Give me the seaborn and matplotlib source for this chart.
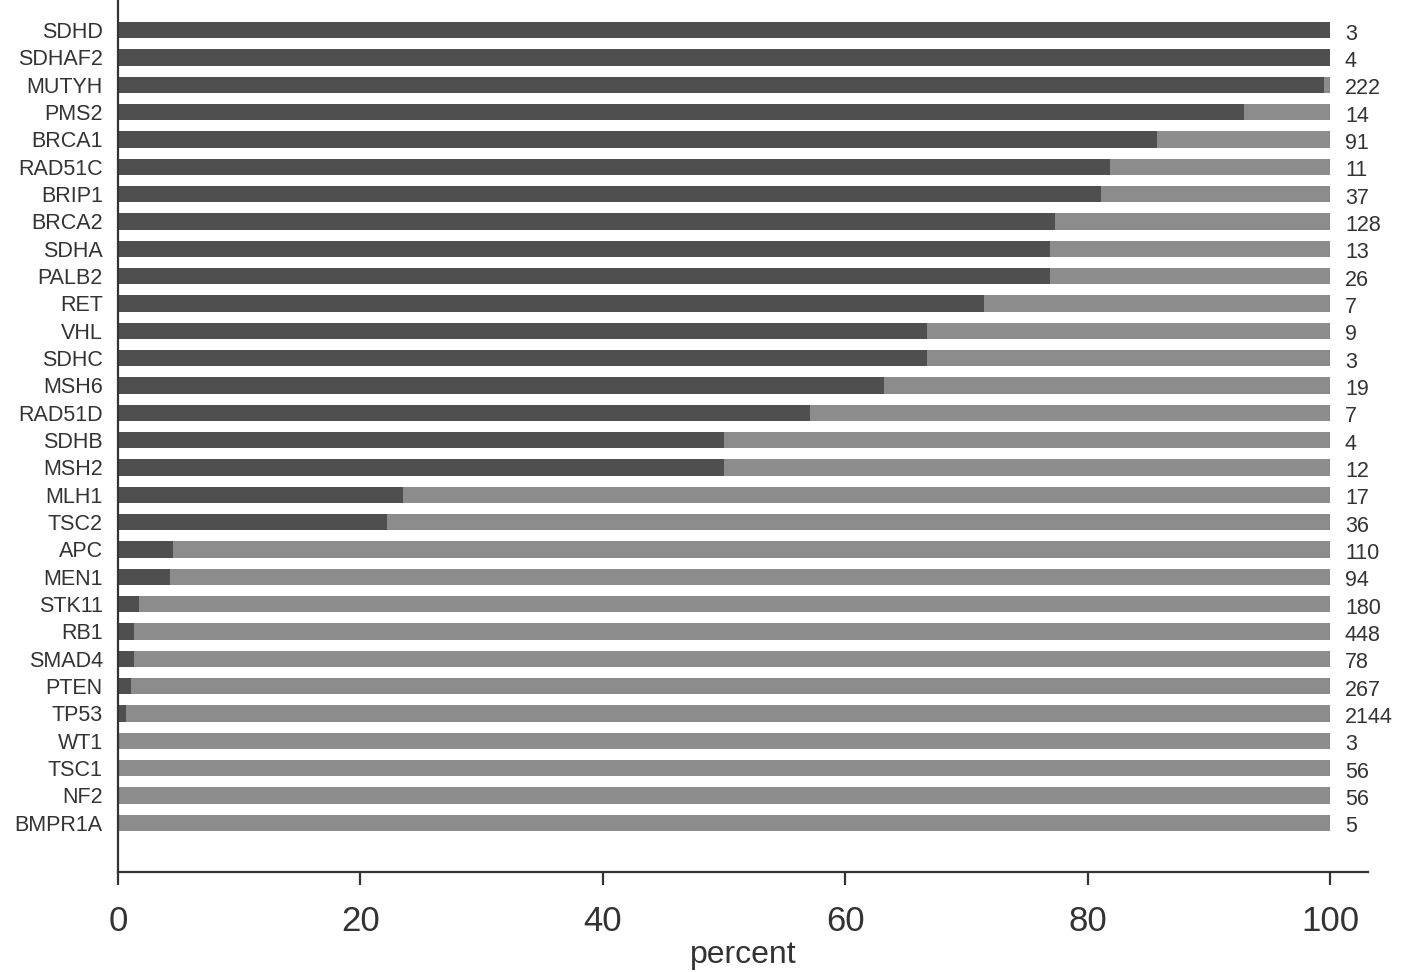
import numpy as np
import pandas as pd
import matplotlib
matplotlib.use("Agg")
import matplotlib.pyplot as plt
import seaborn as sns

# genes, top to bottom
genes = ["SDHD", "SDHAF2", "MUTYH", "PMS2", "BRCA1", "RAD51C", "BRIP1", "BRCA2",
         "SDHA", "PALB2", "RET", "VHL", "SDHC", "MSH6", "RAD51D", "SDHB", "MSH2",
         "MLH1", "TSC2", "APC", "MEN1", "STK11", "RB1", "SMAD4", "PTEN", "TP53",
         "WT1", "TSC1", "NF2", "BMPR1A"]
# dark segment, percent
dark_pct = [100, 100, 99.5, 92.9, 85.7, 81.8, 81.1, 77.3, 76.9, 76.9, 71.4, 66.7,
            66.7, 63.2, 57.1, 50.0, 50.0, 23.5, 22.2, 4.5, 4.3, 1.7, 1.3, 1.3, 1.1,
            0.7, 0, 0, 0, 0]
# number shown at the right end of each bar
counts = [3, 4, 222, 14, 91, 11, 37, 128, 13, 26, 7, 9, 3, 19, 7, 4, 12, 17, 36,
          110, 94, 180, 448, 78, 267, 2144, 3, 56, 56, 5]

df = pd.DataFrame({"gene": genes, "dark": dark_pct, "total": [100] * len(genes)})

sns.set_style("white")
plt.rcParams["font.family"] = ["Liberation Sans", "DejaVu Sans"]

fig = plt.figure(figsize=(14.1, 9.72), dpi=100)
ax = fig.add_axes([118 / 1410, 100 / 972, (1368 - 118) / 1410, 872 / 972])

sns.barplot(data=df, x="total", y="gene", orient="h", color="#8c8c8c",
            saturation=1, width=0.6, linewidth=0, ax=ax)
sns.barplot(data=df, x="dark", y="gene", orient="h", color="#4f4f4f",
            saturation=1, width=0.6, linewidth=0, ax=ax)

for i, n in enumerate(counts):
    ax.text(101.2, i + 0.15, str(n), va="center", ha="left", fontsize=15.5,
            color="#333333")

ax.set_xlim(0, 103.1)
ax.set_ylim(30.8, -1.1)
ax.set_xticks([0, 20, 40, 60, 80, 100])
ax.tick_params(axis="x", direction="out", length=9.5, width=1.6, color="#333333",
               labelsize=25, labelcolor="#333333", pad=14, bottom=True)
ax.tick_params(axis="y", length=0, labelsize=15.5, labelcolor="#333333", pad=11)
ax.set_ylabel("")
ax.set_xlabel("percent", fontsize=23, color="#333333", labelpad=2)

for side in ["top", "right"]:
    ax.spines[side].set_visible(False)
for side in ["left", "bottom"]:
    ax.spines[side].set_color("#333333")
    ax.spines[side].set_linewidth(1.6)

fig.savefig("out.png", dpi=100, facecolor="white")
